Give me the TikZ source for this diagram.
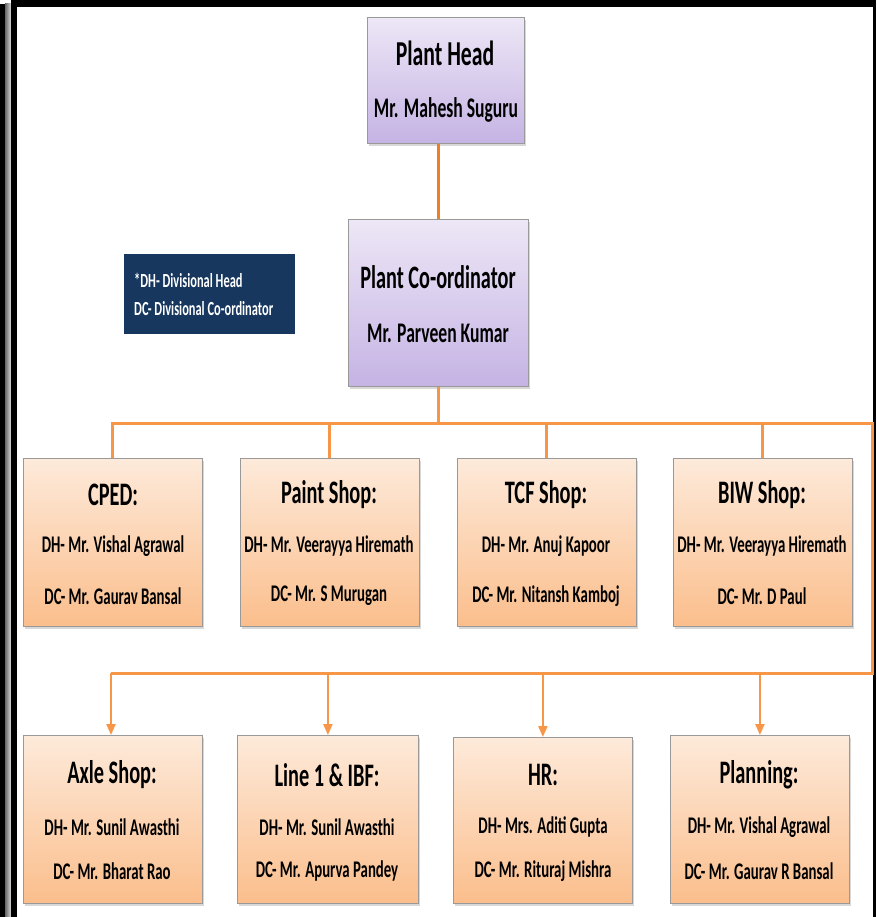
\documentclass[tikz,border=0pt]{standalone}
\usepackage{fontspec}
\setmainfont{Carlito}
\newfontfamily\calf{Carlito}[FakeStretch=0.62]
\usetikzlibrary{shadows,arrows.meta}
\definecolor{peachT}{HTML}{FDEADA}
\definecolor{peachB}{HTML}{FBBE8C}
\definecolor{lilT}{HTML}{EDE7F6}
\definecolor{lilB}{HTML}{C5B3E4}
\definecolor{orangeA}{HTML}{F07F21}
\definecolor{orangeB}{HTML}{F79646}
\definecolor{navy}{HTML}{17375E}
\begin{document}
\begin{tikzpicture}[x=1pt,y=-1pt,
  basebox/.style={draw=black!40, line width=0.8pt, anchor=north west, inner sep=0pt,
    drop shadow={shadow xshift=2pt,shadow yshift=-3pt,fill=black!30}},
  dept/.style={basebox, top color=peachT, bottom color=peachB, minimum width=179pt, minimum height=168pt},
  lead/.style={basebox, top color=lilT, bottom color=lilB},
  headtxt/.style={font=\calf\bfseries\fontsize{32.8}{35}\selectfont, text=black, inner sep=0pt},
  topname/.style={font=\calf\bfseries\fontsize{28.4}{31}\selectfont, text=black, inner sep=0pt},
  nametxt/.style={font=\calf\bfseries\fontsize{23.9}{27}\selectfont, text=black, inner sep=0pt},
  legtxt/.style={font=\calf\bfseries\fontsize{20}{23}\selectfont, text=white, inner sep=0pt, anchor=west},
  connA/.style={draw=orangeA, line width=3.5pt},
  connB/.style={draw=orangeB, line width=3pt},
  arr/.style={draw=orangeB, line width=2.2pt, -{Triangle[length=11pt,width=9pt]}}
]
\fill[white] (0,0) rectangle (876,917);
\useasboundingbox (0,0) rectangle (876,917);
% frame
\fill[black] (0,4) rectangle (5,917);
\shade[left color=black!60, right color=black!15] (5,4) rectangle (11,917);
\fill[black] (11,0) rectangle (17,917);
\fill[black] (11,0) rectangle (876,7);
\fill[black] (873,0) rectangle (876,917);

% top boxes
\node[lead, minimum width=157pt, minimum height=126pt] (ph) at (367,17) {};
\node[headtxt, font=\calf\bfseries\fontsize{35}{38}\selectfont] (phA) at (445,53) {Plant Head};
\node[topname] (phB) at (446,110) {Mr. Mahesh Suguru};

\node[lead, minimum width=180pt, minimum height=167pt] (pc) at (348,219) {};
\node[headtxt, font=\calf\bfseries\fontsize{32.7}{35}\selectfont] (pcA) at (438,277) {Plant Co-ordinator};
\node[topname] (pcB) at (438,333) {Mr. Parveen Kumar};

% legend
\node[fill=navy, anchor=north west, minimum width=171pt, minimum height=80pt, inner sep=0pt] (leg) at (124,254) {};
\node[legtxt] (legA) at (134,280) {*DH- Divisional Head};
\node[legtxt] (legB) at (134,309) {DC- Divisional Co-ordinator};

% row 1
\node[dept] (cped) at (23,458) {};
\node[headtxt] (cpedA) at (113,495) {CPED:};
\node[nametxt] (cpedB) at (113,546) {DH- Mr. Vishal Agrawal};
\node[nametxt] (cpedC) at (113,596) {DC- Mr. Gaurav Bansal};

\node[dept] (paint) at (240,458) {};
\node[headtxt] (paintA) at (329,495) {Paint Shop:};
\node[nametxt] (paintB) at (329,546) {DH- Mr. Veerayya Hiremath};
\node[nametxt] (paintC) at (329,596) {DC- Mr. S Murugan};

\node[dept] (tcf) at (457,458) {};
\node[headtxt] (tcfA) at (546,495) {TCF Shop:};
\node[nametxt] (tcfB) at (546,546) {DH- Mr. Anuj Kapoor};
\node[nametxt] (tcfC) at (546,596) {DC- Mr. Nitansh Kamboj};

\node[dept] (biw) at (673,458) {};
\node[headtxt] (biwA) at (762,495) {BIW Shop:};
\node[nametxt] (biwB) at (762,546) {DH- Mr. Veerayya Hiremath};
\node[nametxt] (biwC) at (762,596) {DC- Mr. D Paul};

% row 2
\node[dept] (axle) at (23,735) {};
\node[headtxt] (axleA) at (112,775) {Axle Shop:};
\node[nametxt] (axleB) at (112,827) {DH- Mr. Sunil Awasthi};
\node[nametxt] (axleC) at (112,871) {DC- Mr. Bharat Rao};

\node[dept, minimum width=181pt] (line) at (237,735) {};
\node[headtxt] (lineA) at (327,775) {Line 1 \& IBF:};
\node[nametxt] (lineB) at (327,827) {DH- Mr. Sunil Awasthi};
\node[nametxt] (lineC) at (327,871) {DC- Mr. Apurva Pandey};

\node[dept, minimum height=166pt] (hr) at (453,737) {};
\node[headtxt] (hrA) at (543,775) {HR:};
\node[nametxt] (hrB) at (543,827) {DH- Mrs. Aditi Gupta};
\node[nametxt] (hrC) at (543,871) {DC- Mr. Rituraj Mishra};

\node[dept] (plan) at (670,735) {};
\node[headtxt] (planA) at (759,775) {Planning:};
\node[nametxt] (planB) at (759,827) {DH- Mr. Vishal Agrawal};
\node[nametxt] (planC) at (759,871) {DC- Mr. Gaurav R Bansal};

% connectors
\coordinate (bus) at (437,423);
\coordinate (busR) at (872,423);
\coordinate (busRB) at (872,673);
\coordinate (busL) at (111,673);
\draw[connA] (pc.north |- ph.south) -- (pc.north);
\draw[connB] (pc.south) -- (pc.south |- bus);
\draw[connB] (cped.north) -- (cped.north |- bus) -- (busR) -- (busRB) -- (busL);
\draw[connB] (paint.north) -- (paint.north |- bus);
\draw[connB] (tcf.north) -- (tcf.north |- bus);
\draw[connB] (biw.north) -- (biw.north |- bus);
\draw[arr] (busL) -- (axle.north -| busL);
\draw[arr] (line.north |- busRB) -- (line.north);
\draw[arr] (hr.north |- busRB) -- (hr.north);
\draw[arr] (plan.north |- busRB) -- (plan.north);
\end{tikzpicture}
\end{document}
